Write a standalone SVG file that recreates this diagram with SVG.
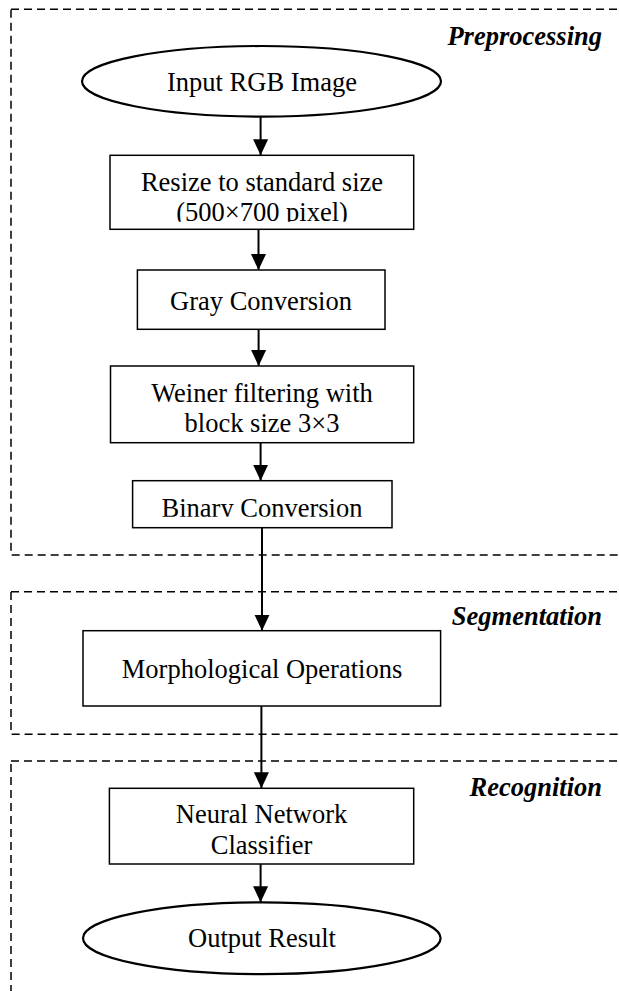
<svg xmlns="http://www.w3.org/2000/svg" width="619" height="991" viewBox="0 0 619 991">
<style>
.region{fill:none;stroke:#000;stroke-width:1.5;stroke-dasharray:8 5}
.box{fill:#fff;stroke:#000;stroke-width:1.5}
.term{fill:#fff;stroke:#000;stroke-width:2.2}
.lbl{font-family:"Liberation Serif","Times New Roman",serif;font-size:26.5px;fill:#000;text-anchor:middle}
.title{font-family:"Liberation Serif","Times New Roman",serif;font-size:26.5px;font-weight:bold;font-style:italic;fill:#000;text-anchor:end}
.conn{stroke:#000;stroke-width:2;fill:none}
</style>
<defs>
<marker id="arr" markerUnits="userSpaceOnUse" markerWidth="16" markerHeight="17" refX="17" refY="8" orient="auto" viewBox="0 0 17 16">
<path d="M0,0 L17,8 L0,16 Z" fill="#000"/>
</marker>
<clipPath id="clipResize"><rect x="100" y="150" width="330" height="71.7"/></clipPath>
<clipPath id="clipBinary"><rect x="100" y="480" width="330" height="36.8"/></clipPath>
</defs>
<rect width="619" height="991" fill="#fff"/>
<g id="regions">
<rect id="preprocessing-region" class="region" x="11" y="9.3" width="700" height="545.7"/>
<rect id="segmentation-region" class="region" x="11" y="591.7" width="700" height="142.6"/>
<rect id="recognition-region" class="region" x="11" y="761" width="700" height="300"/>
<text class="title" x="602" y="45">Preprocessing</text>
<text class="title" x="602" y="625">Segmentation</text>
<text class="title" x="602" y="796">Recognition</text>
</g>
<g id="connectors">
<line class="conn" x1="260.6" y1="116.7" x2="260.6" y2="155.3" marker-end="url(#arr)"/>
<line class="conn" x1="258.5" y1="229.3" x2="258.5" y2="270" marker-end="url(#arr)"/>
<line class="conn" x1="258.6" y1="329.3" x2="258.6" y2="366" marker-end="url(#arr)"/>
<line class="conn" x1="260.6" y1="442.7" x2="260.6" y2="480.7" marker-end="url(#arr)"/>
<line class="conn" x1="262" y1="527.7" x2="262" y2="630.7" marker-end="url(#arr)"/>
<line class="conn" x1="261.4" y1="706" x2="261.4" y2="788.3" marker-end="url(#arr)"/>
<line class="conn" x1="260.6" y1="864" x2="260.6" y2="902.3" marker-end="url(#arr)"/>
</g>
<g id="input">
<ellipse class="term" cx="261.5" cy="81.3" rx="179.5" ry="35.3"/>
<text class="lbl" x="262" y="90.7">Input RGB Image</text>
</g>
<g id="resize">
<rect class="box" x="110" y="155.3" width="303.7" height="74"/>
<text class="lbl" x="262" y="190.7">Resize to standard size</text>
<text class="lbl" x="262" y="221" clip-path="url(#clipResize)">(500×700 pixel)</text>
</g>
<g id="gray">
<rect class="box" x="137.4" y="270" width="247.6" height="59.3"/>
<text class="lbl" x="261" y="310">Gray Conversion</text>
</g>
<g id="weiner">
<rect class="box" x="110.5" y="366" width="303.2" height="76.7"/>
<text class="lbl" x="262" y="401.7">Weiner filtering with</text>
<text class="lbl" x="262" y="431.7">block size 3×3</text>
</g>
<g id="binary">
<rect class="box" x="132.6" y="480.7" width="259.4" height="47"/>
<text class="lbl" x="262" y="516.5" clip-path="url(#clipBinary)">Binary Conversion</text>
</g>
<g id="morph">
<rect class="box" x="83" y="630.7" width="357.6" height="75.3"/>
<text class="lbl" x="262" y="678.3">Morphological Operations</text>
</g>
<g id="nn">
<rect class="box" x="109.4" y="788.3" width="304.3" height="75.7"/>
<text class="lbl" x="261.5" y="823.3">Neural Network</text>
<text class="lbl" x="261.5" y="854">Classifier</text>
</g>
<g id="output">
<ellipse class="term" cx="261.8" cy="938.2" rx="178.8" ry="35.9"/>
<text class="lbl" x="262" y="947.3">Output Result</text>
</g>
</svg>
